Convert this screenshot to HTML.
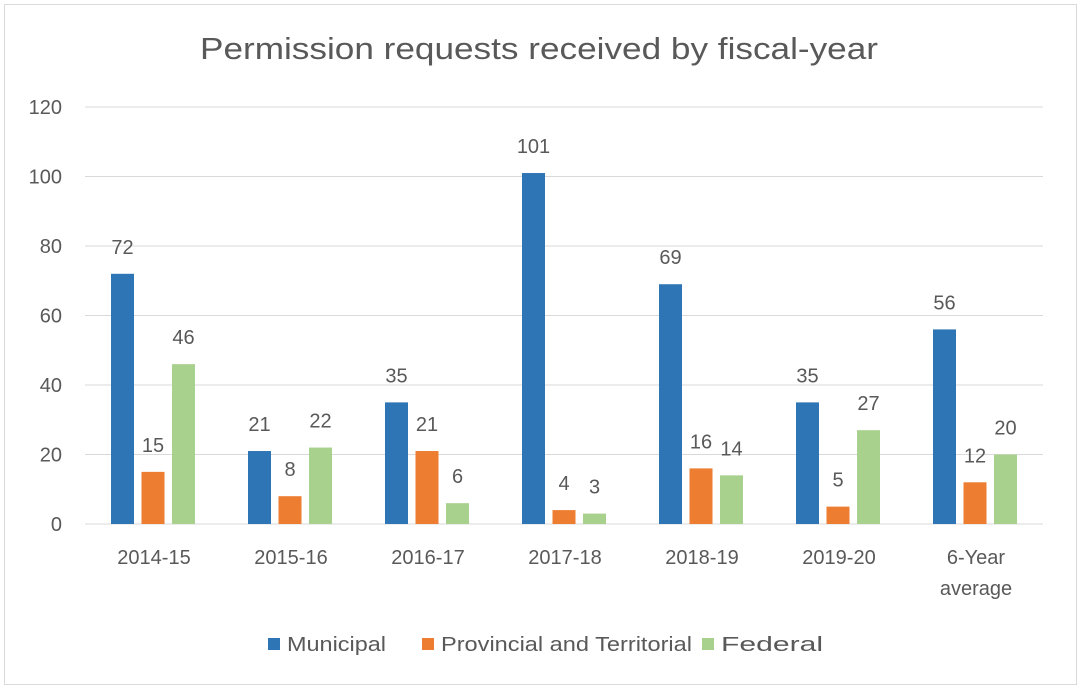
<!DOCTYPE html>
<html><head><meta charset="utf-8"><style>
body{margin:0;background:#fff;font-family:"Liberation Sans",sans-serif;}
svg text{font-family:"Liberation Sans",sans-serif;fill:#595959;}
</style></head><body>
<svg id="chart" width="1081" height="690">
<rect x="4.5" y="4.5" width="1072" height="680" fill="#fff" stroke="#d9d9d9"/>
<text x="200" y="59" textLength="678" lengthAdjust="spacingAndGlyphs" font-size="31">Permission requests received by fiscal-year</text>
<g id="grid"></g><g id="bars"></g><g id="labels"></g>
<g>
<rect x="268" y="638" width="12" height="12" fill="#2E75B6"/>
<text x="287" y="651" font-size="20" textLength="99" lengthAdjust="spacingAndGlyphs">Municipal</text>
<rect x="422" y="638" width="12" height="12" fill="#ED7D31"/>
<text x="441" y="651" font-size="20" textLength="251" lengthAdjust="spacingAndGlyphs">Provincial and Territorial</text>
<rect x="702" y="638" width="12" height="12" fill="#A9D18E"/>
<text x="721" y="651" font-size="20" textLength="102" lengthAdjust="spacingAndGlyphs">Federal</text>
</g>
</svg>
<script>
const categories=[["2014-15"],["2015-16"],["2016-17"],["2017-18"],["2018-19"],["2019-20"],["6-Year","average"]];
const municipal=[72,21,35,101,69,35,56];
const provincial=[15,8,21,4,16,5,12];
const federal=[46,22,6,3,14,27,20];
const yTicks=[0,20,40,60,80,100,120];
const seriesNames=["municipal","provincial","federal"];
const colors=["#2E75B6","#ED7D31","#A9D18E"];
const NS="http://www.w3.org/2000/svg";
function y(v){return 524-v*(524-107)/120;}
function cx(i){return 154+i*137;}
function mk(tag,attrs,parent,txt){const e=document.createElementNS(NS,tag);for(const k in attrs)e.setAttribute(k,attrs[k]);if(txt!==undefined)e.textContent=txt;parent.appendChild(e);return e;}
const grid=document.getElementById('grid'),bars=document.getElementById('bars'),labels=document.getElementById('labels');
yTicks.forEach(t=>{
 const l=mk('line',{x1:85,x2:1043,y1:y(t),y2:y(t),stroke:'#d9d9d9','stroke-width':1},grid);
 
 
 const tx=mk('text',{x:62,y:y(t)+7,'text-anchor':'end','font-size':20},labels,String(t));
 
 
});
const series=[municipal,provincial,federal];
categories.forEach((c,i)=>{
 series.forEach((s,j)=>{
  const x=cx(i)-43+j*30.5;
  const r=mk('rect',{x:x,y:y(s[i]),width:23,height:y(0)-y(s[i]),fill:colors[j]},bars);
  
  
  const v=mk('text',{x:x+11.5,y:y(s[i])-20,'text-anchor':'middle','font-size':20},labels,String(s[i]));
  
  
 });
 c.forEach((line,k)=>{
  const t=mk('text',{x:cx(i),y:564+k*31,'text-anchor':'middle','font-size':20},labels,line);
  
  
 });
});
</script>
</body></html>
